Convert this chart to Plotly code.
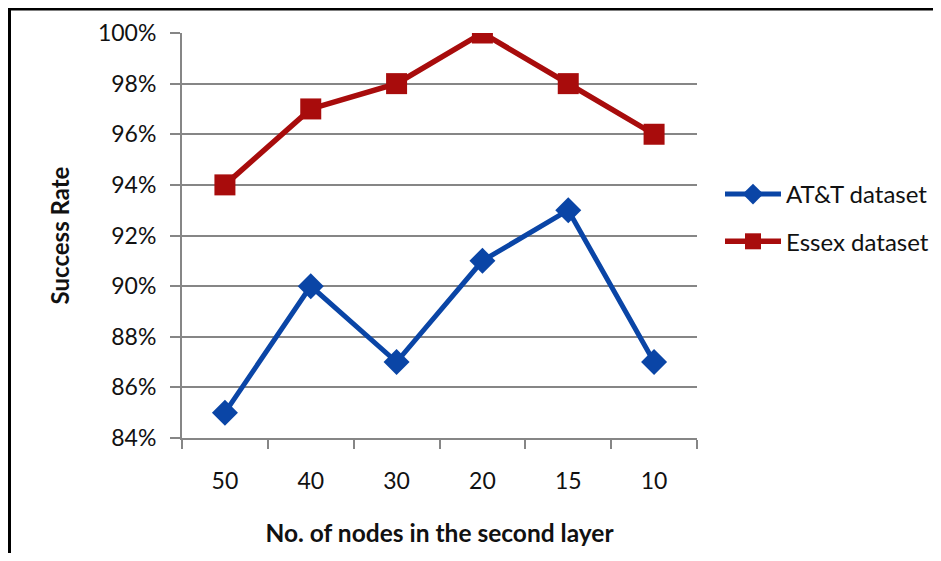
import plotly.graph_objects as go

categories = ["50", "40", "30", "20", "15", "10"]
att_values = [85, 90, 87, 91, 93, 87]
essex_values = [94, 97, 98, 100, 98, 96]
y_ticks = [84, 86, 88, 90, 92, 94, 96, 98, 100]
y_tick_labels = [f"{v}%" for v in y_ticks]

FONT = "Lato, 'Open Sans', sans-serif"
OFF = 8  # page body margin
W, H = 941 - 2 * OFF, 561 - 2 * OFF
# plot area in page coordinates
L, R, T, B = 182, 697, 33, 438

fig = go.Figure()
fig.add_trace(go.Scatter(
    x=categories, y=att_values, name="AT&T dataset", mode="lines+markers",
    line=dict(color="#0A45A6", width=5),
    marker=dict(symbol="diamond", size=20, color="#0A45A6"),
    legendgroup="a",
))
fig.add_trace(go.Scatter(
    x=categories, y=essex_values, name="Essex dataset", mode="lines+markers",
    line=dict(color="#A80C0C", width=5.5),
    marker=dict(symbol="square", size=21, color="#A80C0C"),
    legendgroup="b",
))

def px_x(p):
    return (p - L) / (R - L)

def px_y(p):
    return (B - p) / (B - T)

fig.update_layout(
    width=W, height=H,
    margin=dict(l=L - OFF, r=W - (R - OFF), t=T - OFF, b=H - (B - OFF), autoexpand=False),
    paper_bgcolor="white", plot_bgcolor="white",
    font=dict(family=FONT, size=23, color="#111111"),
    showlegend=True,
    legend=dict(
        x=px_x(720), y=px_y(218), xanchor="left", yanchor="middle",
        font=dict(family=FONT, size=24, color="#111111"),
        tracegroupgap=13, itemwidth=56, bgcolor="rgba(0,0,0,0)",
    ),
    xaxis=dict(
        type="category", range=[-0.5, 5.5], automargin=False,
        tickson="boundaries", ticks="outside", ticklen=9, tickwidth=2, tickcolor="#868686",
        showgrid=False, showline=True, linecolor="#868686", linewidth=2,
        ticklabelstandoff=21,
        tickfont=dict(family=FONT, size=23, color="#111111"),
        title=dict(text="<b>No. of nodes in the second layer</b>", standoff=32,
                   font=dict(family=FONT, size=24.5, color="#111111")),
    ),
    yaxis=dict(
        range=[84, 100], tickvals=y_ticks, ticktext=y_tick_labels, automargin=False,
        ticks="outside", ticklen=10, tickwidth=2, tickcolor="#868686",
        showgrid=True, gridcolor="#868686", gridwidth=2,
        showline=True, linecolor="#868686", linewidth=2,
        zeroline=False, ticklabelstandoff=9,
        tickfont=dict(family=FONT, size=23, color="#111111"),
        title=dict(text="<b>Success Rate</b>", standoff=22,
                   font=dict(family=FONT, size=24, color="#111111")),
    ),
    shapes=[
        dict(type="line", xref="paper", yref="paper",
             x0=px_x(8), x1=px_x(8 + W), y0=px_y(9), y1=px_y(9),
             line=dict(color="black", width=3)),
        dict(type="line", xref="paper", yref="paper",
             x0=px_x(9.5), x1=px_x(9.5), y0=px_y(8), y1=px_y(8 + H),
             line=dict(color="black", width=3)),
    ],
)

fig.write_html("out.html", config={"displayModeBar": False})
